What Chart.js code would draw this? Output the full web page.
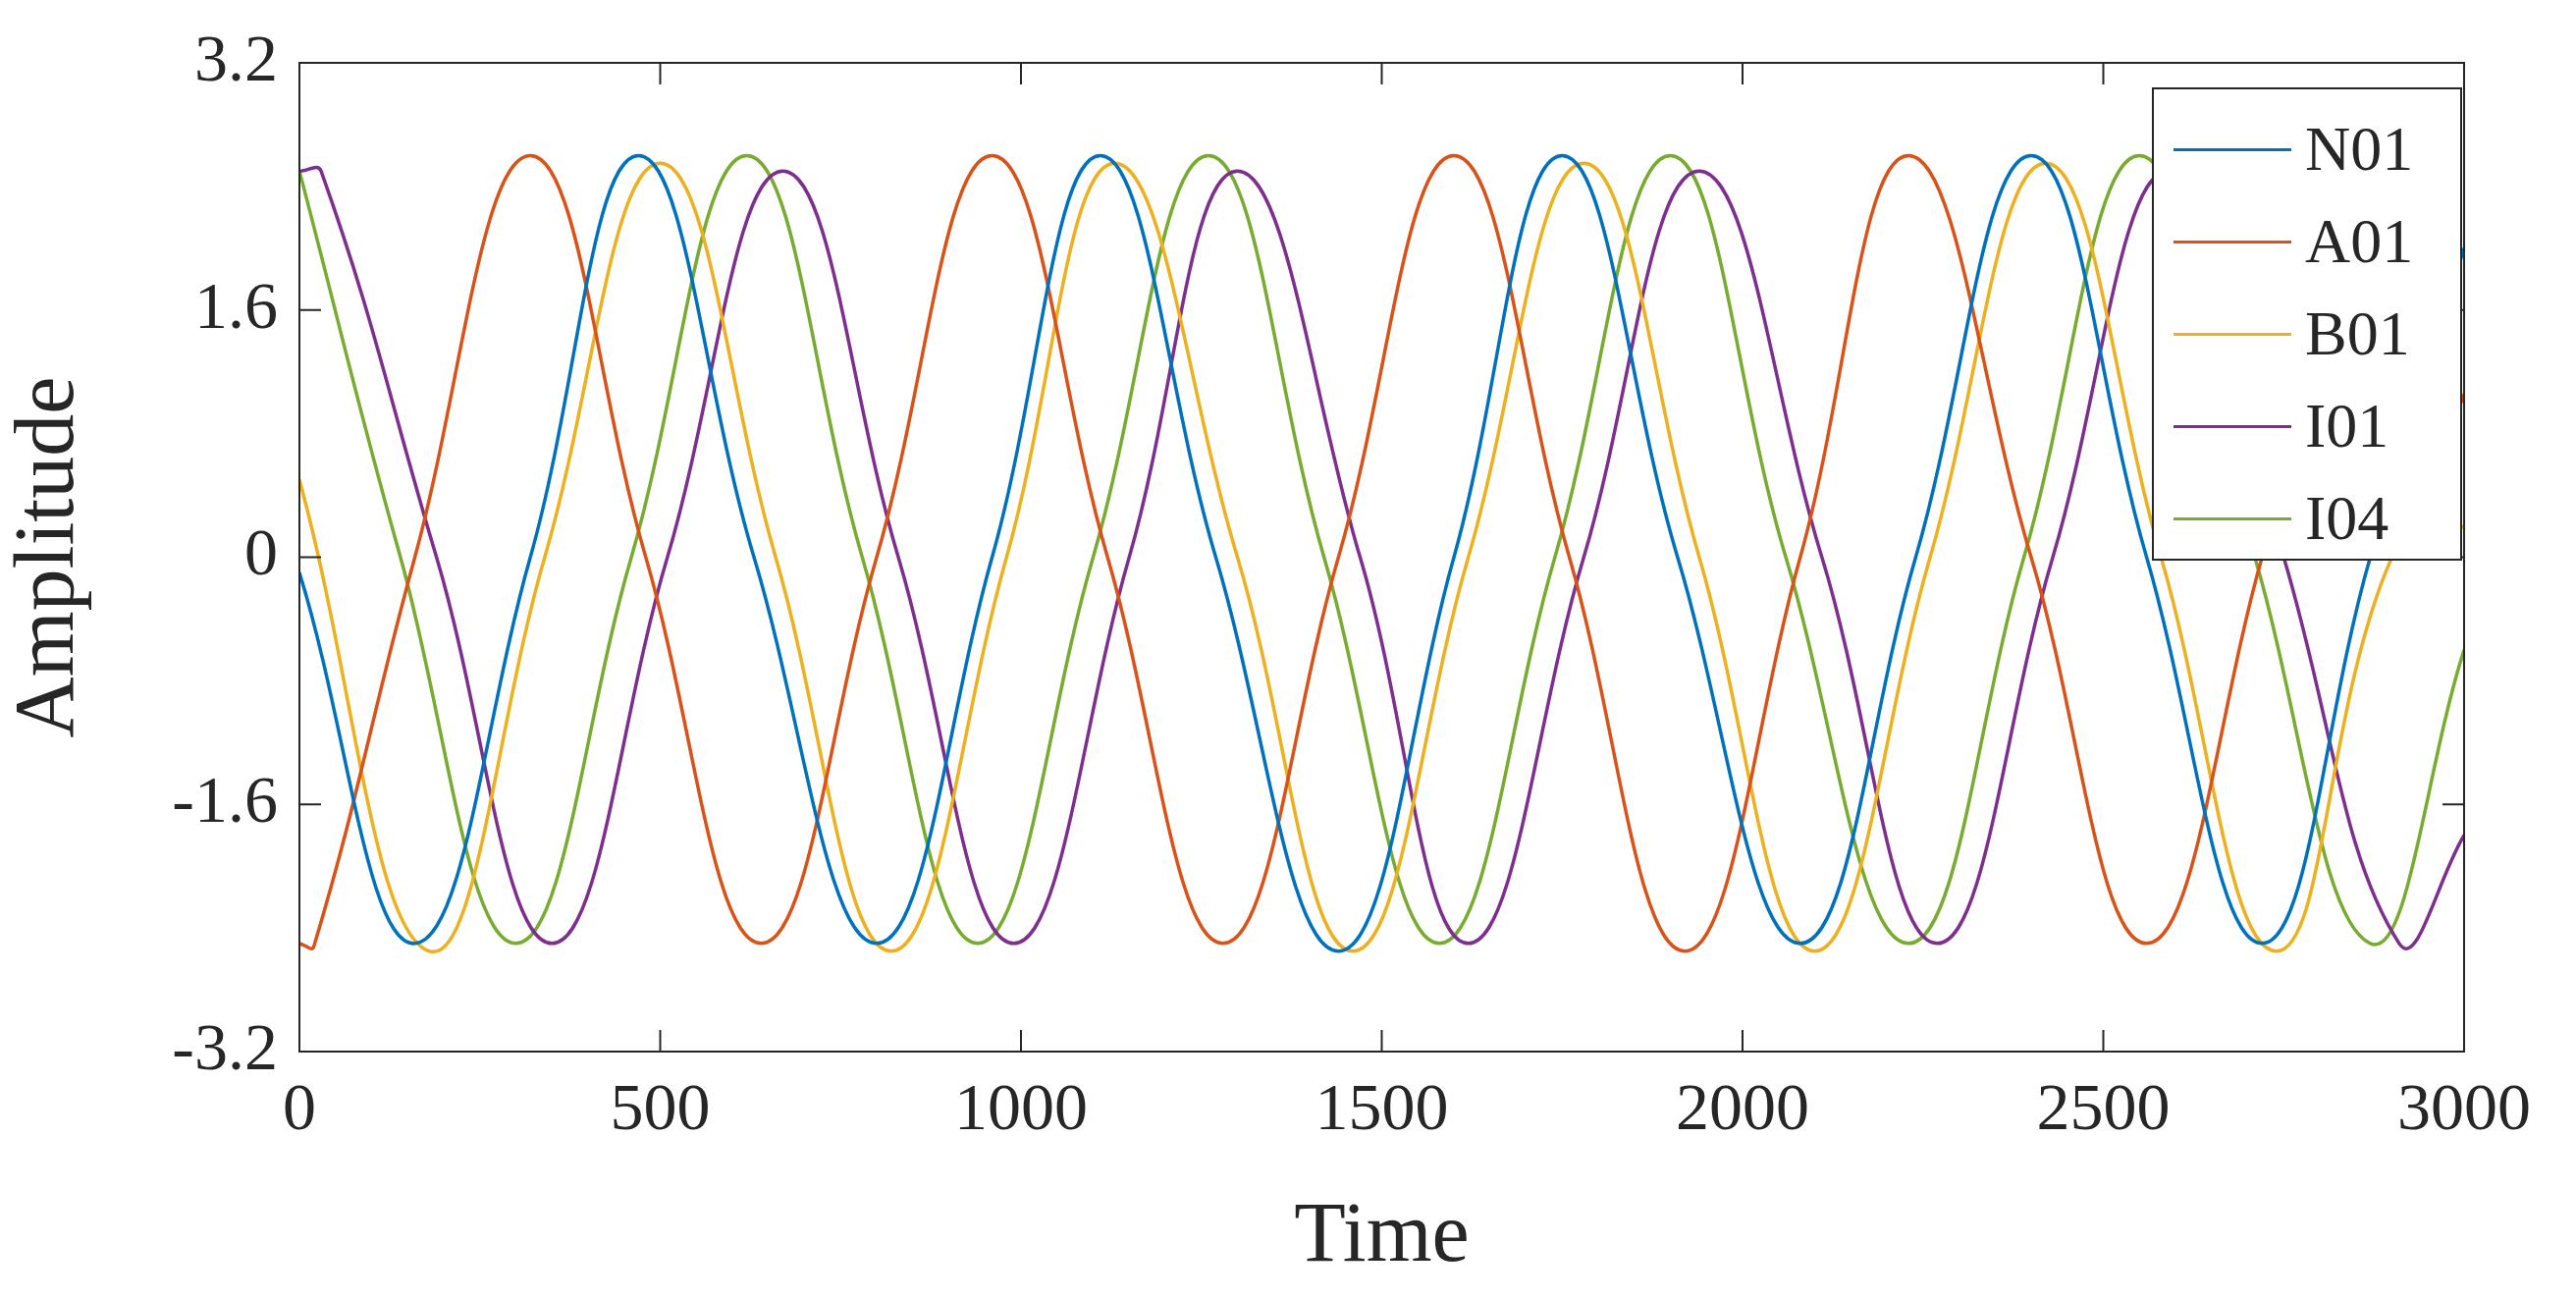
<!DOCTYPE html>
<html>
<head>
<meta charset="utf-8">
<script src="https://cdn.jsdelivr.net/npm/chart.js@4/dist/chart.umd.min.js"></script>
<style>
  html, body { margin: 0; padding: 0; background: #fff; }
  #wrap { position: relative; width: 2624px; height: 1323px; }
  #legend {
    position: absolute; left: 2192px; top: 89px; width: 316px; height: 482px;
    border: 2px solid #262626; background: #fff; box-sizing: border-box;
    font-family: "Liberation Serif", serif; font-size: 64px; color: #262626;
    padding-top: 14px;
  }
  .item { display: flex; align-items: center; height: 94px; }
  .item span.ln { display: inline-block; width: 120px; height: 3px; margin: 0 14px 0 20px; }
</style>
</head>
<body>
<div id="wrap">
  <canvas id="c" width="2624" height="1323"></canvas>
  <div id="legend"></div>
</div>
<script>
// key points: [time, amplitude]
const n01 = [[0,-0.1],[160,-2.5],[320,0],[470,2.6],[630,0],[800,-2.5],[960,0],[1110,2.6],[1270,0],[1440,-2.55],[1600,0],[1750,2.6],[1910,0],[2080,-2.5],[2240,0],[2400,2.6],[2560,0],[2720,-2.5],[2870,0],[3000,2.0]];
const a01 = [[0,-2.5],[20,-2.52],[160,0],[320,2.6],[480,0],[640,-2.5],[800,0],[960,2.6],[1120,0],[1280,-2.5],[1440,0],[1600,2.6],[1760,0],[1920,-2.55],[2080,0],[2230,2.6],[2400,0],[2560,-2.5],[2720,0],[2870,2.6],[3000,1.0]];
const b01 = [[0,0.5],[180,-2.55],[340,0],[500,2.55],[660,0],[820,-2.55],[980,0],[1130,2.55],[1300,0],[1460,-2.55],[1620,0],[1780,2.55],[1940,0],[2100,-2.55],[2260,0],[2420,2.55],[2580,0],[2740,-2.55],[2900,0],[3000,0.2]];
const i01 = [[0,2.5],[30,2.5],[190,0],[350,-2.5],[510,0],[670,2.5],[830,0],[990,-2.5],[1150,0],[1300,2.5],[1470,0],[1620,-2.5],[1780,0],[1940,2.5],[2110,0],[2270,-2.5],[2430,0],[2590,2.5],[2750,0],[2910,-2.5],[3000,-1.8]];
const i04 = [[0,2.5],[140,0],[300,-2.5],[460,0],[620,2.6],[780,0],[940,-2.5],[1100,0],[1260,2.6],[1420,0],[1580,-2.5],[1740,0],[1900,2.6],[2060,0],[2230,-2.5],[2390,0],[2550,2.6],[2710,0],[2870,-2.5],[3000,-0.6]];

const seriesNames = ['N01','A01','B01','I01','I04'];
const seriesData = [n01, a01, b01, i01, i04];
const colors = ['#0072BD','#D95319','#EDB120','#7E2F8E','#77AC30'];
const xTicks = [0,500,1000,1500,2000,2500,3000];
const yTicks = [-3.2,-1.6,0,1.6,3.2];

const font = 'Liberation Serif';
const ink = '#262626';

// box + inward ticks like MATLAB
const boxPlugin = {
  id: 'box',
  afterDraw(chart) {
    const { ctx, chartArea: a, scales } = chart;
    ctx.save();
    ctx.strokeStyle = ink;
    ctx.lineWidth = 2;
    ctx.strokeRect(a.left, a.top, a.right - a.left, a.bottom - a.top);
    const t = 22;
    ctx.beginPath();
    xTicks.forEach(v => {
      const x = scales.x.getPixelForValue(v);
      ctx.moveTo(x, a.bottom); ctx.lineTo(x, a.bottom - t);
      ctx.moveTo(x, a.top); ctx.lineTo(x, a.top + t);
    });
    yTicks.forEach(v => {
      const y = scales.y.getPixelForValue(v);
      ctx.moveTo(a.left, y); ctx.lineTo(a.left + t, y);
      ctx.moveTo(a.right, y); ctx.lineTo(a.right - t, y);
    });
    ctx.stroke();
    ctx.restore();
  }
};

new Chart(document.getElementById('c'), {
  type: 'line',
  data: {
    datasets: seriesNames.map((name, i) => ({
      label: name,
      data: seriesData[i].map(p => ({ x: p[0], y: p[1] })),
      borderColor: colors[i],
      borderWidth: 3.5,
      pointRadius: 0,
      tension: 0.42,
      fill: false
    }))
  },
  options: {
    responsive: false,
    animation: false,
    layout: { padding: { top: 64, right: 114, left: 0, bottom: 0 } },
    plugins: { legend: { display: false }, tooltip: { enabled: false } },
    scales: {
      x: {
        type: 'linear', min: 0, max: 3000,
        afterBuildTicks: s => { s.ticks = xTicks.map(v => ({ value: v })); },
        afterFit: s => { s.height = 252; },
        grid: { display: false },
        border: { display: false },
        ticks: { color: ink, font: { family: font, size: 68 }, maxRotation: 0, padding: 12,
                 callback: v => String(v) },
        title: { display: true, text: 'Time', color: ink, font: { family: font, size: 86 }, padding: { top: 0, bottom: 10 } }
      },
      y: {
        min: -3.2, max: 3.2,
        afterBuildTicks: s => { s.ticks = yTicks.map(v => ({ value: v })); },
        afterFit: s => { s.width = 305; },
        grid: { display: false },
        border: { display: false },
        ticks: { color: ink, font: { family: font, size: 68 }, padding: 14,
                 callback: v => String(v) },
        title: { display: true, text: 'Amplitude', color: ink, font: { family: font, size: 86 }, padding: { top: 0, bottom: 10 } }
      }
    }
  },
  plugins: [boxPlugin]
});

const legend = document.getElementById('legend');
seriesNames.forEach((name, i) => {
  const d = document.createElement('div');
  d.className = 'item';
  d.innerHTML = `<span class="ln" style="background:${colors[i]}"></span>${name}`;
  legend.appendChild(d);
});
</script>
</body>
</html>
